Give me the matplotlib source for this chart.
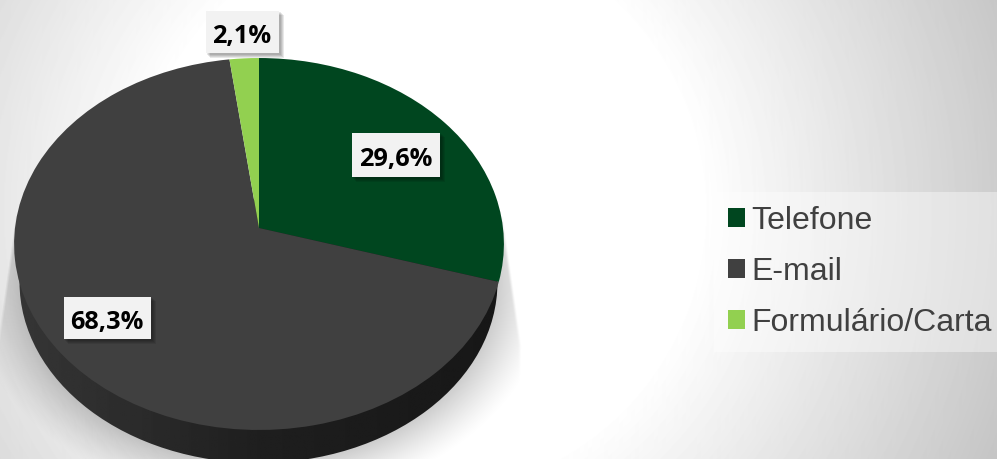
import numpy as np
import matplotlib
matplotlib.use("Agg")
import matplotlib.pyplot as plt
from matplotlib.patches import Rectangle
from matplotlib.path import Path
from matplotlib.transforms import Transform

categories = ["Telefone", "E-mail", "Formulário/Carta"]
shares = [29.6, 68.3, 2.1]
colors = ["#00461F", "#404040", "#92D050"]


class Disc(Transform):
    """Perspective view of the unit disc, to pixel coordinates."""
    input_dims = output_dims = 2
    is_affine = False

    def __init__(self, cx, cy, a, b, k):
        super().__init__()
        self.p = (cx, cy, a, b, k)

    def transform_non_affine(self, xy):
        cx, cy, a, b, k = self.p
        xy = np.asarray(xy, float)
        w = 1 + k * xy[:, 1]
        return np.column_stack([cx + a * xy[:, 0] / w, cy - b * xy[:, 1] / w])


W, H = 997, 459
fig = plt.figure(figsize=(W / 100, H / 100), dpi=100)
ax = fig.add_axes([0, 0, 1, 1])

# pie
wedges, _ = ax.pie(shares, colors=colors, startangle=90, counterclock=False,
                   wedgeprops={"linewidth": 0})
ax.set_aspect("auto")
ax.set_xlim(0, W)
ax.set_ylim(H, 0)
ax.axis("off")

top = Disc(259, 228, 244, 184.6, 0.086)
for w in wedges:
    w.set_transform(top + ax.transData)
    w.set_zorder(5)

# background
yy, xx = np.mgrid[0:H, 0:W] + 0.5
r = np.hypot(xx - 420, yy - 210)
bg = np.clip(255 - np.clip(r - 280, 0, None) * 0.168, 0, 255) / 255
ax.imshow(bg, cmap="gray", vmin=0, vmax=1, extent=(0, W, H, 0), aspect="auto", zorder=0)

# soft shadow behind the pie
edge = 244 + 18 * np.clip((yy - 220) / 125, 0, 1)
side = np.clip((edge - np.abs(xx - 259)) / 3, 0, 1) * np.clip((yy - 215) / 5, 0, 1)
dist = (np.hypot((xx - 259) / 237, (yy - 282) / 181) - 1) * 200
fade = np.clip(1 - dist / 48, 0, 1) ** 1.3
rgba = np.zeros((H, W, 4))
rgba[..., 3] = 0.2 * side * fade
ax.imshow(rgba, extent=(0, W, H, 0), aspect="auto", zorder=1)

# side wall of the pie
low = Disc(258.5, 282, 239, 181, 0.0)
grad = np.interp(np.linspace(0, 1, 256), [0, 0.25, 0.5, 1], [0.21, 0.17, 0.12, 0.09])
img = ax.imshow(np.tile(grad, (4, 1)), cmap="gray", vmin=0, vmax=1,
                extent=(14, 504, H + 10, 200), aspect="auto", zorder=3)
img.set_clip_path(Path.unit_circle(), low + ax.transData)
ax.set_xlim(0, W)
ax.set_ylim(H, 0)

# value labels
label_boxes = [(352, 133, 88, 44), (64, 297, 87, 42), (206, 11, 73, 42)]
for v, (x, y, bw, bh) in zip(shares, label_boxes):
    for i in range(1, 5):
        ax.add_patch(Rectangle((x + i, y + i), bw + 1, bh + 1, fc="k", ec="none",
                               alpha=0.09, zorder=7))
    ax.add_patch(Rectangle((x, y), bw, bh, fc="#F2F2F2", ec="none", zorder=8))
    ax.text(x + bw / 2 - 0.5, y + bh / 2 + 1.5, f"{v:.1f}".replace(".", ",") + "%",
            ha="center", va="center_baseline", family="Open Sans", weight="bold",
            fontsize=18.3, color="black", zorder=9)

# legend
leg = ax.legend(wedges, categories, loc="upper left", bbox_to_anchor=(714 / W, 1 - 192 / H),
                borderaxespad=0, frameon=True, fancybox=False, framealpha=0.4,
                facecolor="white", edgecolor="none",
                prop={"family": "Liberation Sans", "size": 23},
                labelcolor="#404040", handlelength=0.54, handleheight=0.54,
                handletextpad=0.2, labelspacing=0.66, borderpad=0.43)
leg.set_zorder(6)

fig.savefig("out.png", dpi=100)
